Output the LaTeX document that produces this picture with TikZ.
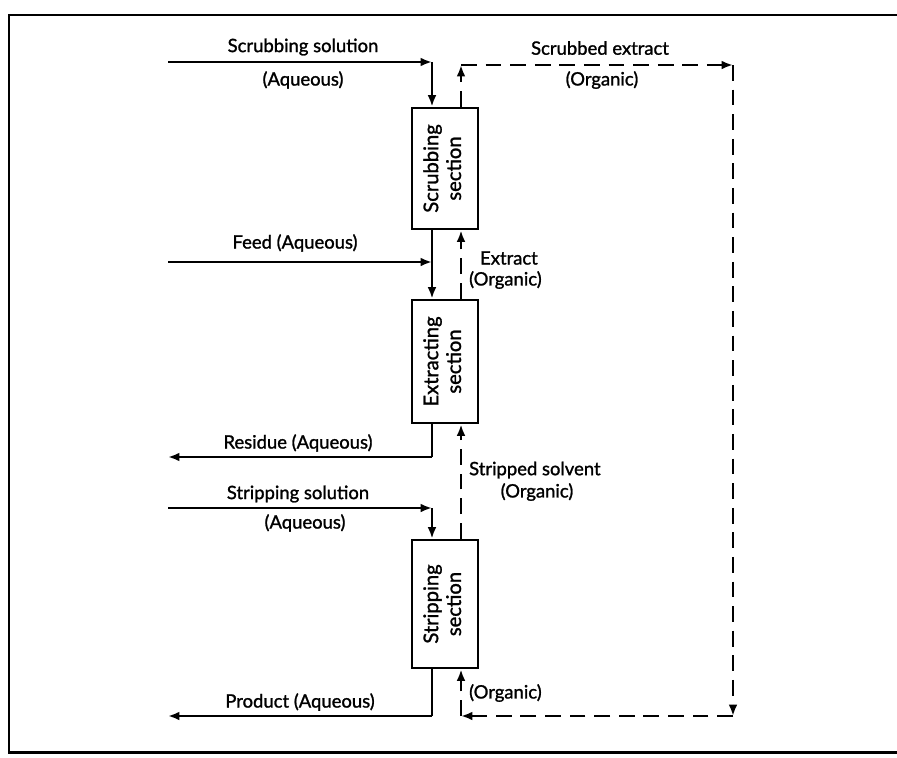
\documentclass[tikz,border=0pt]{standalone}
\usepackage{fontspec}
\setmainfont{Lato}[FakeBold=1.3]
\usepackage{graphicx}
\usetikzlibrary{arrows.meta}

\begin{document}
\begin{tikzpicture}[x=0.02cm, y=-0.02cm, line width=1.6pt,
		>={Latex[length=6.5pt,width=5pt]},
		section/.style={draw, minimum width=1.32cm, inner sep=0pt, align=center, font=\fontsize{11.5}{13}\selectfont},
		lbl/.style={inner sep=1pt, font=\fontsize{10.5}{12}\selectfont},
		organic/.style={dash pattern=on 9pt off 5pt}]
		\useasboundingbox (0,0) rectangle (897,758);
		% frame
		\draw[line width=1.7pt] (897,15) -- (9,15) -- (9,752) -- (897,752);
		
		% the three sections
		\node[section, minimum height=2.42cm] (scrubbing) at (445,168.5) {\rotatebox{90}{\begin{tabular}{@{}c@{}}Scrubbing\\section\end{tabular}}};
		\node[section, minimum height=2.46cm] (extracting) at (445,361.5) {\rotatebox{90}{\begin{tabular}{@{}c@{}}Extracting\\section\end{tabular}}};
		\node[section, minimum height=2.56cm] (stripping) at (445,604) {\rotatebox{90}{\begin{tabular}{@{}c@{}}Stripping\\section\end{tabular}}};
		
		% corners and free ends
		\coordinate (scrubin) at (168,62);
		\coordinate (scrubc) at (432,62);
		\coordinate (feedin) at (168,262);
		\coordinate (feedc) at (432,262);
		\coordinate (resc) at (432,457);
		\coordinate (resout) at (168,457);
		\coordinate (stripin) at (168,508);
		\coordinate (stripc) at (432,508);
		\coordinate (prodc) at (432,716);
		\coordinate (prodout) at (168,716);
		\coordinate (extc) at (461,65);
		\coordinate (extr) at (733,65);
		\coordinate (retr) at (733,716);
		\coordinate (retc) at (461,716);
		
		% aqueous streams
		\draw[->] (scrubin) -- (scrubc);
		\draw[->] (scrubc) -- (scrubc |- scrubbing.north);
		\draw[->] (feedin) -- (feedc);
		\draw[->] (scrubc |- scrubbing.south) -- (feedc |- extracting.north);
		\draw (feedc |- extracting.south) -- (resc);
		\draw[->] (resc) -- (resout);
		\draw[->] (stripin) -- (stripc);
		\draw[->] (stripc) -- (stripc |- stripping.north);
		\draw (stripc |- stripping.south) -- (prodc);
		\draw[->] (prodc) -- (prodout);
		
		% organic streams
		\draw[organic,->] (extc |- scrubbing.north) -- (extc);
		\draw[organic,->] (extc) -- (extr);
		\draw[organic,->] (extr) -- (retr);
		\draw[organic,->] (retr) -- (retc);
		\draw[organic,->] (retc) -- (retc |- stripping.south);
		\draw[organic,->] (retc |- stripping.north) -- (retc |- extracting.south);
		\draw[organic,->] (retc |- extracting.north) -- (retc |- scrubbing.south);
		
		% labels
		\node[lbl] (scrubsol) at (303,47) {Scrubbing solution};
		\node[lbl] (scrubaq) at (303,80) {(Aqueous)};
		\node[lbl] (scrubext) at (600,48) {Scrubbed extract};
		\node[lbl] (scrubextorg) at (602,80) {(Organic)};
		\node[lbl] (feed) at (295,243) {Feed (Aqueous)};
		\node[lbl, anchor=west] (extract) at (477,258) {Extract};
		\node[lbl, anchor=west] (extractorg) at (466,280) {(Organic)};
		\node[lbl] (residue) at (298,443) {Residue (Aqueous)};
		\node[lbl, anchor=west] (solvent) at (466,470) {Stripped solvent};
		\node[lbl] (solventorg) at (537,492) {(Organic)};
		\node[lbl] (stripsol) at (298,494) {Stripping solution};
		\node[lbl] (stripaq) at (305,523) {(Aqueous)};
		\node[lbl] (product) at (300,702) {Product (Aqueous)};
		\node[lbl, anchor=west] (returnorg) at (466,693) {(Organic)};
\end{tikzpicture}
\end{document}
